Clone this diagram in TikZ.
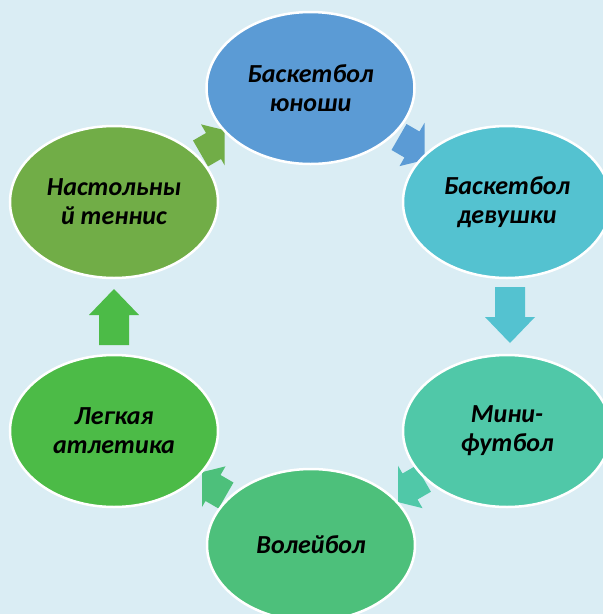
\documentclass[tikz,border=0pt]{standalone}
\usepackage{fontspec}
\setmainfont{Carlito}
\usetikzlibrary{shapes.geometric}
\definecolor{bg}{HTML}{DAEDF4}
\definecolor{cblue}{HTML}{5B9BD5}
\definecolor{cteal}{HTML}{54C2D0}
\definecolor{cmint}{HTML}{50C8A8}
\definecolor{cgreenA}{HTML}{4DC07B}
\definecolor{cgreenB}{HTML}{4CBB47}
\definecolor{colive}{HTML}{71AD47}
\newcommand\blockarrow[5]{%
  \fill[#1, shift={(#2,#3)}, rotate=#4] (-#5,-15) -- (0,-15) -- (0,-25) -- (26,0) -- (0,25) -- (0,15) -- (-#5,15) -- cycle;}
\begin{document}
\begin{tikzpicture}[x=1pt,y=-1pt,
  blob/.style={ellipse, draw=white, line width=2.5pt, minimum width=208pt, minimum height=152pt,
    inner sep=0pt, align=center, text=black, font=\fontsize{26}{29}\selectfont\bfseries\itshape}]
\useasboundingbox (0,0) rectangle (603,614);
\fill[bg] (0,0) rectangle (603,614);
\clip (0,0) rectangle (603,614);
% arrows
\begin{scope}\clip (0,0) rectangle (224.5,614); \blockarrow{colive}{213.5}{146}{30}{15}\end{scope}
\begin{scope}\clip (0,0) rectangle (424.5,614); \blockarrow{cblue}{412}{144.5}{-30}{15}\end{scope}
\blockarrow{cteal}{510}{317}{-90}{30}
\begin{scope}\clip (398,0) rectangle (603,614); \blockarrow{cmint}{410}{486.5}{-150}{15.5}\end{scope}
\begin{scope}\clip (202,0) rectangle (603,614); \blockarrow{cgreenA}{213}{488}{150}{15}\end{scope}
\blockarrow{cgreenB}{114}{315}{90}{30}
% nodes
\node[blob, fill=cblue]   (bj) at (310.5,88)  {Баскетбол\\юноши};
\node[blob, fill=cteal]   (bd) at (507,202)   {Баскетбол\\девушки};
\node[blob, fill=cmint]   (mf) at (507,431)   {Мини-\\футбол};
\node[blob, fill=cgreenA] (vb) at (311,545)   {Волейбол};
\node[blob, fill=cgreenB] (la) at (114,431)   {Легкая\\атлетика};
\node[blob, fill=colive]  (nt) at (114,202)   {Настольны\\й теннис};
\end{tikzpicture}
\end{document}
